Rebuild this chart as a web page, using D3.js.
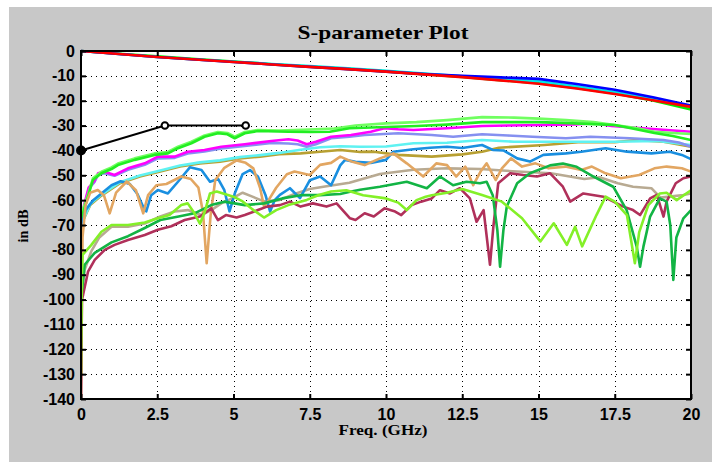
<!DOCTYPE html>
<html>
<head>
<meta charset="utf-8">
<script src="https://cdn.jsdelivr.net/npm/d3@7"></script>
<style>
  body { margin: 0; background: #ffffff; }
  svg { display: block; }
</style>
</head>
<body>
<svg id="chart" width="712" height="462"></svg>
<script>
// ---- axis definitions ----
const xTicks = [0, 2.5, 5, 7.5, 10, 12.5, 15, 17.5, 20];
const xTickLabels = ["0", "2.5", "5", "7.5", "10", "12.5", "15", "17.5", "20"];
const yTicks = [0, -10, -20, -30, -40, -50, -60, -70, -80, -90, -100, -110, -120, -130, -140];
const yTickLabels = ["0", "-10", "-20", "-30", "-40", "-50", "-60", "-70", "-80", "-90", "-100", "-110", "-120", "-130", "-140"];

// ---- transmission traces, [GHz, dB] ----
const ilFreq = [0, 1.25, 2.5, 3.75, 5, 6.25, 7.5, 8.75, 10, 11.25, 12.5, 13.75, 15, 16.25, 17.5, 18.75, 20];
const ilRed   = [0, -1.2, -2.4, -3.4, -4.4, -5.4, -6.4, -7.3, -8.3, -9.4, -10.5, -11.8, -13.2, -15.1, -17.3, -19.8, -22.5];
const ilBlue  = [0, -1.2, -2.4, -3.4, -4.4, -5.4, -6.4, -7.3, -8.3, -9.3, -10.0, -10.6, -11.2, -13.3, -15.6, -18.6, -22.0];
const ilCyan  = [0, -1.2, -2.4, -3.4, -4.3, -5.2, -6.1, -7.0, -8.0, -9.1, -10.2, -11.2, -12.2, -14.2, -16.5, -19.1, -22.3];
const ilGreen = [0, -1.1, -2.1, -3.2, -4.2, -5.3, -6.3, -7.2, -8.2, -9.3, -10.4, -11.7, -13.0, -14.9, -17.1, -19.9, -23.5];

// ---- marker polyline ----
const markerPts = [[0, -40], [2.75, -30], [5.4, -30]];

// ---- coupling / reflection traces, [GHz, dB] ----
const greenA = [[0,-68],[0.23,-58.6],[0.39,-51.9],[0.67,-49.2],[1.0,-47.5],[1.21,-45.9],[1.76,-43.8],[2.41,-41.8],[2.85,-41.2],[3.18,-39.1],[3.62,-37.1],[4.05,-34.5],[4.49,-33.1],[4.8,-33.5],[5.04,-35.1],[5.37,-33.1],[5.8,-32.2],[6.8,-32.5],[7.5,-32.6],[8.16,-32.5],[8.8,-31.1],[10,-30.6],[11,-30.2],[12,-29.6],[13.15,-28.6],[14,-28.6],[15,-28.6],[16,-29],[17,-29.5],[17.5,-29.8],[18.2,-31.5],[18.8,-33],[19.4,-34.2],[20,-35.8]];
const greenB = [[0,-66],[0.23,-57.8],[0.39,-51.2],[0.67,-48.6],[1.0,-46.8],[1.21,-45.3],[1.76,-43.2],[2.41,-41.2],[2.85,-40.6],[3.18,-38.5],[3.62,-36.5],[4.05,-34],[4.49,-32.6],[4.8,-33],[5.04,-34.5],[5.37,-32.6],[5.8,-31.8],[6.5,-32],[7.5,-31.6],[8.3,-31.2],[9,-30],[10,-29.1],[11,-28.6],[12,-27.8],[13.15,-26.6],[14.2,-26.8],[15,-27.2],[15.9,-27.8],[16.8,-28.6],[17.5,-29.8],[18.2,-31],[18.8,-32.5],[19.4,-33],[20,-33.4]];
const magenta = [[0,-75],[0.1,-62],[0.25,-55],[0.44,-52.3],[0.56,-49.2],[0.77,-48.6],[1.1,-49.9],[1.54,-47.2],[2.09,-45.2],[2.52,-42.5],[3.07,-42.5],[3.5,-40.5],[4.05,-39.8],[4.6,-38.5],[5.37,-37.5],[6.24,-36.2],[6.8,-35.5],[7.1,-36],[7.4,-37.5],[7.7,-36.5],[8.2,-34.5],[8.85,-33.8],[9.5,-32.5],[9.95,-31.1],[10.4,-31.5],[10.9,-31.8],[12,-31.1],[13.15,-30.2],[14,-30],[15.2,-29.8],[16.2,-29.5],[16.8,-29],[17.4,-30.2],[18.4,-31.1],[19.2,-31.8],[20,-32.5]];
const periwinkle = [[0,-76],[0.1,-63],[0.25,-55.5],[0.44,-52.8],[0.56,-49.8],[0.77,-49.2],[1.1,-50.2],[1.54,-47.8],[2.09,-45.8],[2.52,-43.2],[3.07,-43],[3.5,-41.2],[4.05,-40.4],[4.6,-39.2],[5.37,-38.2],[6.24,-37],[6.8,-37.2],[7.1,-37.5],[7.4,-38.5],[7.7,-37.5],[8.2,-35.1],[8.8,-34.5],[9.3,-33.8],[10.4,-33.1],[11.5,-33.8],[12.2,-34.5],[13.15,-33.5],[14,-34],[14.8,-34.5],[15.9,-35.1],[16.7,-34.5],[18,-35.1],[19.1,-35.8],[19.6,-36.8],[20,-38.5]];
const aqua = [[0,-70],[0.3,-61.6],[0.62,-58.2],[1.28,-52.8],[1.93,-50.1],[2.6,-48.1],[3.25,-46.1],[3.9,-44.8],[4.56,-44],[5.2,-42.7],[5.87,-41.9],[6.5,-41],[7.2,-39.7],[7.84,-38.7],[8.5,-38.3],[9.15,-38.5],[10,-38.4],[10.9,-37.1],[12,-36.9],[13.15,-35.8],[14.2,-36.5],[15.9,-36.5],[17.5,-36.5],[18.9,-36.2],[20,-37.8]];
const olive = [[0,-70],[0.3,-62],[0.62,-58.6],[1.28,-53.2],[1.93,-50.5],[2.6,-48.5],[3.25,-46.5],[3.9,-45.2],[4.56,-44.5],[5.2,-43.2],[5.87,-42.5],[6.5,-41.5],[7.2,-41.2],[7.84,-40.5],[8.5,-39.8],[9.15,-40.6],[9.6,-40.5],[10.4,-41.8],[11.5,-42.5],[12.5,-41.6],[13.15,-40.5],[13.7,-38.9],[15.2,-37.8],[16.3,-36.7],[17.5,-36.7],[18.2,-35.8],[19.1,-36.5],[20,-38.5]];
const azure = [[0,-72],[0.15,-64],[0.4,-60],[0.7,-57],[1.0,-54],[1.3,-52.4],[1.6,-53.5],[1.85,-57.5],[2.05,-63],[2.14,-64.5],[2.3,-58],[2.52,-55.9],[2.85,-57.3],[3.18,-52.6],[3.57,-46.8],[3.95,-47.9],[4.23,-52.6],[4.5,-51.5],[4.7,-56],[4.87,-64.5],[5.05,-57],[5.3,-49.5],[5.54,-47.9],[5.8,-50.5],[6.05,-58],[6.2,-64.6],[6.35,-60],[6.52,-57.9],[6.85,-55.2],[7.18,-59.2],[7.5,-52],[7.84,-50.5],[8.2,-54],[8.5,-46],[8.66,-43.8],[9.0,-44.6],[9.5,-45],[10.0,-43.8],[10.24,-40.5],[10.9,-39.5],[11.44,-38.9],[12.0,-38.5],[12.5,-39],[13.15,-37.8],[13.5,-39.8],[13.85,-40],[14.3,-43.2],[14.72,-44.5],[15.16,-41.8],[15.9,-41.2],[16.4,-40.5],[17.2,-39.1],[17.9,-40.5],[18.7,-41.2],[19.3,-40.5],[19.7,-41.8],[20,-43.5]];
const sand = [[0,-140],[0.05,-75],[0.15,-62],[0.3,-57],[0.55,-55.9],[0.75,-58],[0.94,-65.3],[1.15,-57],[1.5,-52.5],[1.8,-56],[2.04,-65.3],[2.2,-58],[2.47,-54],[2.8,-53.5],[3.29,-50.5],[3.6,-51.5],[3.85,-55],[4.0,-65],[4.12,-85.4],[4.25,-66],[4.4,-52],[4.7,-47],[5.1,-44],[5.4,-45],[5.65,-47.2],[5.87,-55],[6.0,-62.6],[6.15,-60],[6.4,-55],[6.75,-49.6],[7.0,-48.5],[7.5,-49.9],[7.84,-45.8],[8.2,-45],[8.5,-42.5],[8.9,-44.6],[9.3,-45.9],[9.8,-43.2],[10.24,-41.2],[10.68,-45.2],[11.22,-50.5],[11.65,-45.2],[12.0,-45.9],[12.3,-50.5],[12.6,-46.5],[12.86,-54],[13.1,-48.5],[13.3,-45.2],[13.6,-51.9],[13.8,-47.2],[14.1,-43.2],[14.46,-46.5],[14.9,-45.2],[15.33,-47.2],[15.88,-46.5],[16.4,-47.9],[16.75,-46.5],[17.2,-49.2],[17.7,-51.2],[18.3,-49.9],[18.8,-47.2],[19.2,-46.5],[19.7,-47.2],[20,-48.5]];
const taupe = [[0,-100],[0.12,-88],[0.34,-80.5],[0.6,-75],[1.0,-70.7],[1.54,-70.7],[2.09,-69.4],[2.6,-66.6],[3.07,-64.6],[3.5,-64],[3.94,-66],[4.27,-64],[4.6,-61.3],[5.0,-59],[5.3,-57],[5.6,-58.5],[6.0,-60.5],[6.5,-60],[7.0,-57.5],[7.5,-55.5],[8.0,-54.5],[8.8,-53],[9.8,-49.5],[10.9,-47.8],[12.0,-47.2],[13.1,-47.5],[14.3,-48.5],[15.4,-49.2],[16.5,-51.5],[17.0,-50.8],[17.6,-53.2],[18.1,-54.6],[18.7,-55.2],[19.0,-59],[19.3,-58.6],[19.75,-57.9],[20,-57.3]];
const forest = [[0,-100],[0.12,-86],[0.45,-81.2],[1.0,-77],[1.54,-74.5],[2.09,-71.2],[2.6,-68],[3.2,-66.6],[3.72,-65.3],[4.27,-62],[4.7,-60.6],[5.37,-62],[6.0,-61.3],[6.6,-59.3],[7.2,-58],[7.84,-58],[8.5,-57.5],[8.82,-56.6],[9.15,-55.8],[9.8,-54.6],[10.68,-52.6],[11.34,-55.2],[11.77,-50.5],[12.2,-54],[12.64,-52.6],[13.08,-53.2],[13.3,-52.6],[13.5,-58],[13.65,-72],[13.74,-86.8],[13.85,-72],[13.96,-62.6],[14.3,-53.2],[14.72,-49.2],[15.38,-46],[15.8,-45.3],[16.25,-46.6],[16.8,-50.5],[17.45,-54.6],[17.89,-64],[18.22,-78.7],[18.33,-86.8],[18.44,-78.7],[18.66,-66.6],[18.98,-59.3],[19.2,-60.6],[19.32,-70],[19.42,-92.1],[19.52,-75],[19.75,-67.3],[20,-64]];
const crimson = [[0,-140],[0.03,-100],[0.07,-98],[0.23,-88.8],[0.45,-84],[0.78,-80],[1.1,-78],[1.54,-76],[2.09,-74],[2.52,-71.9],[2.96,-70.5],[3.4,-68],[3.9,-66.6],[4.27,-63.3],[4.49,-68],[4.75,-66],[5.1,-67],[5.37,-66],[5.8,-64],[6.1,-62.6],[6.52,-62],[6.85,-60.6],[7.2,-62.6],[7.6,-61.3],[8.05,-62.6],[8.38,-61.3],[8.82,-67.3],[9.0,-68],[9.3,-65.3],[9.6,-66.6],[9.95,-63.3],[10.3,-64.6],[10.5,-66],[10.84,-62],[11.15,-60.6],[11.5,-59.3],[11.77,-56],[12.1,-57.3],[12.42,-55.2],[12.75,-59.3],[12.97,-68.7],[13.2,-64],[13.41,-86],[13.52,-70.7],[13.68,-53.2],[14.07,-49.2],[14.5,-49.9],[14.95,-50.5],[15.38,-49.2],[15.8,-54.6],[16.04,-60.6],[16.47,-57.3],[17.13,-58.6],[17.78,-62.6],[18.1,-64],[18.33,-66],[18.66,-59.3],[18.88,-57.9],[19.1,-66.6],[19.2,-60.6],[19.5,-53.2],[19.75,-51.2],[20,-50.5]];
const lime = [[0,-130],[0.03,-90],[0.05,-82],[0.34,-78],[0.67,-72.7],[1.0,-70],[1.54,-70],[2.09,-69],[2.52,-67.3],[2.9,-66],[3.29,-62],[3.5,-61.3],[3.72,-65.3],[3.9,-69.5],[4.05,-65],[4.23,-57.3],[4.45,-56.5],[5.0,-58.6],[5.3,-60.5],[5.6,-63.5],[6.0,-67],[6.4,-64],[6.8,-62],[7.4,-59.9],[7.8,-57.9],[8.2,-56.5],[8.7,-56],[9.25,-58],[10.0,-59.3],[10.4,-61],[10.68,-64],[11.0,-60],[11.3,-58.6],[11.5,-58],[12.0,-57],[12.5,-55.5],[13.15,-57.9],[13.8,-60.6],[14.46,-67.3],[15.06,-76.6],[15.5,-69.3],[15.93,-78],[16.2,-70.7],[16.43,-78.6],[16.9,-66],[17.2,-58.6],[17.5,-60.6],[17.9,-66],[18.16,-85.4],[18.3,-73],[18.6,-62],[18.98,-57.3],[19.2,-57],[19.53,-60],[20,-56]];

// ---- layout ----
const svg = d3.select("#chart");
const box = { left: 81, top: 51, right: 691, bottom: 399 };
const x = d3.scaleLinear().domain([0, 20]).range([box.left, box.right]);
const y = d3.scaleLinear().domain([-140, 0]).range([box.bottom, box.top]);

// grey figure panel
svg.append("rect").attr("x", 9).attr("y", 7).attr("width", 703).attr("height", 455).attr("fill", "#c8c8c8");
// white axes area
svg.append("rect").attr("x", box.left).attr("y", box.top)
  .attr("width", box.right - box.left).attr("height", box.bottom - box.top).attr("fill", "#ffffff");

// dotted grid
const grid = svg.append("g").attr("stroke", "#000").attr("stroke-width", 1).attr("stroke-dasharray", "1,4");
grid.selectAll("line.gx").data(xTicks.slice(1, -1)).join("line")
  .attr("x1", d => Math.round(x(d)) + 0.5).attr("x2", d => Math.round(x(d)) + 0.5)
  .attr("y1", box.top).attr("y2", box.bottom);
grid.selectAll("line.gy").data(yTicks.slice(1, -1)).join("line")
  .attr("y1", d => Math.round(y(d)) + 0.5).attr("y2", d => Math.round(y(d)) + 0.5)
  .attr("x1", box.left).attr("x2", box.right);

// traces
svg.append("clipPath").attr("id", "clip").append("rect")
  .attr("x", box.left).attr("y", box.top - 2).attr("width", box.right - box.left).attr("height", box.bottom - box.top + 2);

const line = d3.line().x(d => x(d[0])).y(d => y(d[1]));
const zipIL = vals => ilFreq.map((f, i) => [f, vals[i]]);

const traces = [
  { data: olive, color: "#b8a032" },
  { data: aqua, color: "#5ff2f2" },
  { data: periwinkle, color: "#8590f0" },
  { data: magenta, color: "#ff00ff" },
  { data: greenB, color: "#70ff60" },
  { data: greenA, color: "#22ee22" },
  { data: taupe, color: "#b8aa92" },
  { data: azure, color: "#1a8fe0" },
  { data: sand, color: "#e2a662" },
  { data: crimson, color: "#b0305a" },
  { data: forest, color: "#12b444" },
  { data: lime, color: "#84f028" },
  { data: zipIL(ilGreen), color: "#00ee00" },
  { data: zipIL(ilCyan), color: "#00e8e8" },
  { data: zipIL(ilBlue), color: "#0000ff" },
  { data: zipIL(ilRed), color: "#ff0000" }
];

const plotG = svg.append("g").attr("clip-path", "url(#clip)");
plotG.selectAll("path.trace").data(traces).join("path")
  .attr("class", "trace")
  .attr("d", d => line(d.data))
  .attr("fill", "none")
  .attr("stroke", d => d.color)
  .attr("stroke-width", 2.6)
  .attr("stroke-linejoin", "round");

// marker polyline
svg.append("path").attr("d", line(markerPts)).attr("fill", "none")
  .attr("stroke", "#000").attr("stroke-width", 2);
svg.selectAll("circle.mk").data(markerPts).join("circle")
  .attr("cx", d => x(d[0])).attr("cy", d => y(d[1]))
  .attr("r", (d, i) => i === 0 ? 4 : 3.3)
  .attr("fill", (d, i) => i === 0 ? "#000" : "#fff")
  .attr("stroke", "#000").attr("stroke-width", 2);

// axes with inward ticks on all four sides
const tickFont = "'Liberation Sans', Arial, Helvetica, sans-serif";
const xAxis = d3.axisBottom(x).tickValues(xTicks).tickFormat((d, i) => xTickLabels[i]).tickSize(-5).tickPadding(10);
const yAxis = d3.axisLeft(y).tickValues(yTicks).tickFormat((d, i) => yTickLabels[i]).tickSize(-5).tickPadding(6);
const xAxisTop = d3.axisTop(x).tickValues(xTicks).tickFormat("").tickSize(-5);
const yAxisRight = d3.axisRight(y).tickValues(yTicks).tickFormat("").tickSize(-5);

function styleAxis(g) {
  g.select(".domain").remove();
  g.selectAll(".tick line").attr("stroke", "#000").attr("stroke-width", 2);
  g.selectAll(".tick text").attr("fill", "#000")
    .style("font-family", tickFont).style("font-weight", "bold").style("font-size", "16px");
}
svg.append("g").attr("transform", `translate(0,${box.bottom})`).call(xAxis).call(styleAxis);
svg.append("g").attr("transform", `translate(${box.left},0)`).call(yAxis).call(styleAxis);
svg.append("g").attr("transform", `translate(0,${box.top})`).call(xAxisTop).call(styleAxis);
svg.append("g").attr("transform", `translate(${box.right},0)`).call(yAxisRight).call(styleAxis);

// frame
svg.append("rect").attr("x", box.left).attr("y", box.top)
  .attr("width", box.right - box.left).attr("height", box.bottom - box.top)
  .attr("fill", "none").attr("stroke", "#000").attr("stroke-width", 2);

// titles
const serif = "'Liberation Serif', 'Times New Roman', Times, serif";
svg.append("text").attr("x", 383).attr("y", 39).attr("text-anchor", "middle")
  .attr("textLength", 171).attr("lengthAdjust", "spacingAndGlyphs")
  .style("font-family", serif).style("font-weight", "bold").style("font-size", "19px")
  .text("S-parameter Plot");
svg.append("text").attr("x", 383).attr("y", 435).attr("text-anchor", "middle")
  .attr("textLength", 89).attr("lengthAdjust", "spacingAndGlyphs")
  .style("font-family", serif).style("font-weight", "bold").style("font-size", "15px")
  .text("Freq. (GHz)");
svg.append("text").attr("transform", "translate(28,226) rotate(-90)").attr("text-anchor", "middle")
  .attr("textLength", 33).attr("lengthAdjust", "spacingAndGlyphs")
  .style("font-family", serif).style("font-weight", "bold").style("font-size", "15px")
  .text("in dB");
</script>
</body>
</html>
